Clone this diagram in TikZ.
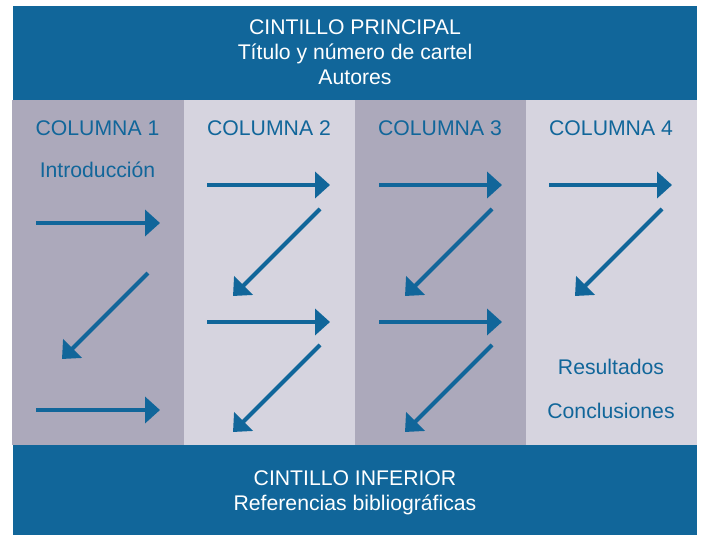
\documentclass[tikz,border=0pt]{standalone}
\usepackage{fontspec}
\setmainfont{Liberation Sans}
\definecolor{BandBlue}{RGB}{17, 102, 154}
\definecolor{ColDark}{RGB}{172, 169, 187}
\definecolor{ColLight}{RGB}{214, 212, 223}
\usetikzlibrary{arrows.meta, positioning}

\begin{document}
\begin{tikzpicture}[
            x=1pt, y=-1pt,
            band/.style={rectangle, fill=BandBlue, inner sep=0pt, anchor=north west,
                        minimum width=684pt},
            col/.style={rectangle, inner sep=0pt, anchor=north west,
                        minimum width=171.5pt, minimum height=345pt},
            bandtext/.style={text=white, align=center, font=\fontsize{21.2}{25}\selectfont},
            coltext/.style={text=BandBlue, font=\fontsize{21.2}{25}\selectfont},
            arrow/.style={-{Triangle[length=15pt, width=26pt]}, line width=4pt, BandBlue}
        ]
            \useasboundingbox (0,0) rectangle (703,535);

            % Bands and columns
            \node[band, minimum height=94pt] (top) at (13,6) {};
            \node[col, fill=ColDark] (c1) at (12,100) {};
            \node[col, fill=ColLight] (c2) at (183.5,100) {};
            \node[col, fill=ColDark] (c3) at (355,100) {};
            \node[col, fill=ColLight] (c4) at (525.5,100) {};
            \node[band, minimum height=90pt] (bottom) at (13,445) {};

            % Texts
            \node[bandtext] (head) at (355,52) {CINTILLO PRINCIPAL\\Título y número de cartel\\Autores};
            \node[bandtext] (foot) at (355,492.5) {CINTILLO INFERIOR\\Referencias bibliográficas};
            \node[coltext] (t1) at (97.5,128) {COLUMNA 1};
            \node[coltext] (t2) at (269,128) {COLUMNA 2};
            \node[coltext] (t3) at (440,128) {COLUMNA 3};
            \node[coltext] (t4) at (611,128) {COLUMNA 4};
            \node[coltext] (intro) at (97.5,170) {Introducción};
            \node[coltext] (res) at (611,367) {Resultados};
            \node[coltext] (concl) at (611,411) {Conclusiones};

            % Arrow ends, column 1
            \coordinate (a1) at (36,223);   \coordinate (b1) at (160,223);
            \coordinate (d1) at (148,273);  \coordinate (e1) at (62,359);
            \coordinate (f1) at (36,410);   \coordinate (g1) at (160,410);
            % Columns 2 and 3
            \foreach \i/\dx in {2/0, 3/172} {
                \coordinate (a\i) at (207+\dx,185);  \coordinate (b\i) at (330+\dx,185);
                \coordinate (d\i) at (320+\dx,209);  \coordinate (e\i) at (233+\dx,296);
                \coordinate (f\i) at (207+\dx,322);  \coordinate (g\i) at (330+\dx,322);
                \coordinate (h\i) at (320+\dx,345);  \coordinate (k\i) at (233+\dx,432);
            }
            % Column 4
            \coordinate (a4) at (549,185);  \coordinate (b4) at (672,185);
            \coordinate (d4) at (662,209);  \coordinate (e4) at (575,296);

            % Arrows
            \draw[arrow] (a1) -- (b1);
            \draw[arrow] (d1) -- (e1);
            \draw[arrow] (f1) -- (g1);
            \foreach \i in {2,3} {
                \draw[arrow] (a\i) -- (b\i);
                \draw[arrow] (d\i) -- (e\i);
                \draw[arrow] (f\i) -- (g\i);
                \draw[arrow] (h\i) -- (k\i);
            }
            \draw[arrow] (a4) -- (b4);
            \draw[arrow] (d4) -- (e4);
        \end{tikzpicture}
\end{document}
